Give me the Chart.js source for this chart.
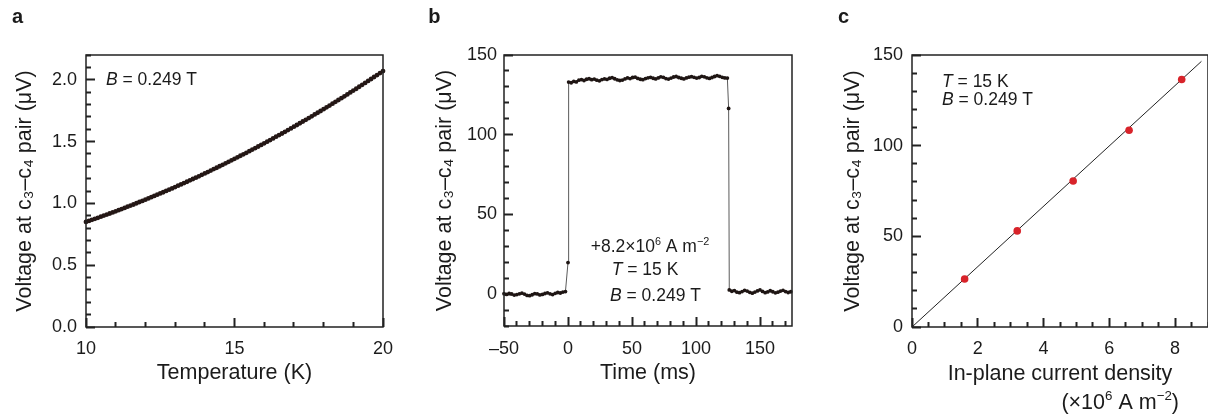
<!DOCTYPE html>
<html><head><meta charset="utf-8">
<script src="https://cdn.jsdelivr.net/npm/chart.js@4"></script>
<style>
html,body{margin:0;padding:0;background:#fff;overflow:hidden;width:1208px;height:414px;}
#wrap{position:relative;width:1208px;height:414px;overflow:hidden;background:#fff;}
canvas{position:absolute;top:0;}
</style></head>
<body><div id="wrap">
<canvas id="ca" width="400" height="414" style="left:0px"></canvas>
<canvas id="cb" width="400" height="414" style="left:400px"></canvas>
<canvas id="cc" width="412" height="414" style="left:800px"></canvas>
</div>
<script>
// ---------------- DATA ----------------
// Panel a: voltage vs temperature
const aTemp = [
 10.0,10.1,10.2,10.3,10.4,10.5,10.6,10.7,10.8,10.9,
 11.0,11.1,11.2,11.3,11.4,11.5,11.6,11.7,11.8,11.9,
 12.0,12.1,12.2,12.3,12.4,12.5,12.6,12.7,12.8,12.9,
 13.0,13.1,13.2,13.3,13.4,13.5,13.6,13.7,13.8,13.9,
 14.0,14.1,14.2,14.3,14.4,14.5,14.6,14.7,14.8,14.9,
 15.0,15.1,15.2,15.3,15.4,15.5,15.6,15.7,15.8,15.9,
 16.0,16.1,16.2,16.3,16.4,16.5,16.6,16.7,16.8,16.9,
 17.0,17.1,17.2,17.3,17.4,17.5,17.6,17.7,17.8,17.9,
 18.0,18.1,18.2,18.3,18.4,18.5,18.6,18.7,18.8,18.9,
 19.0,19.1,19.2,19.3,19.4,19.5,19.6,19.7,19.8,19.9,
 20.0];
const aVolt = [
 0.850,0.858,0.867,0.875,0.883,0.892,0.901,0.909,0.918,0.927,
 0.936,0.945,0.954,0.963,0.973,0.982,0.991,1.001,1.011,1.020,
 1.030,1.040,1.050,1.060,1.070,1.080,1.090,1.101,1.111,1.121,
 1.132,1.143,1.153,1.164,1.175,1.186,1.197,1.208,1.219,1.231,
 1.242,1.253,1.265,1.277,1.288,1.300,1.312,1.324,1.336,1.348,
 1.360,1.372,1.385,1.397,1.409,1.422,1.435,1.447,1.460,1.473,
 1.486,1.499,1.512,1.525,1.539,1.552,1.565,1.579,1.593,1.606,
 1.620,1.634,1.648,1.662,1.676,1.690,1.704,1.719,1.733,1.747,
 1.762,1.777,1.791,1.806,1.821,1.836,1.851,1.866,1.881,1.897,
 1.912,1.927,1.943,1.959,1.974,1.990,2.006,2.022,2.038,2.054,
 2.070];
const aXTicks = [10,15,20];
const aXLabels = ['10','15','20'];
const aYTicks = [0,0.5,1.0,1.5,2.0];
const aYLabels = ['0.0','0.5','1.0','1.5','2.0'];

// Panel b: voltage vs time (segments)
const bTimeLow1 = [-50,-48,-46,-44,-42,-40,-38,-36,-34,-32,
 -30,-28,-26,-24,-22,-20,-18,-16,-14,-12,
 -10,-8,-6,-4,-2];
const bVoltLow1 = [0.3,-0.2,0.5,0.1,-0.6,-0.3,0.2,0.6,0.0,-0.8,
 -1.0,-0.4,0.3,0.1,-0.5,-0.2,0.4,0.8,0.2,-0.3,
 0.5,1.0,0.7,1.3,1.6];
const bTimeRise = [0];
const bVoltRise = [19.8];
const bTimeHigh = [0.5,2.5,4.5,6.5,8.5,10.5,12.5,14.5,16.5,18.5,
 20.5,22.5,24.5,26.5,28.5,30.5,32.5,34.5,36.5,38.5,
 40.5,42.5,44.5,46.5,48.5,50.5,52.5,54.5,56.5,58.5,
 60.5,62.5,64.5,66.5,68.5,70.5,72.5,74.5,76.5,78.5,
 80.5,82.5,84.5,86.5,88.5,90.5,92.5,94.5,96.5,98.5,
 100.5,102.5,104.5,106.5,108.5,110.5,112.5,114.5,116.5,118.5,
 120.5,122.5,124.5];
const bVoltHigh = [133.0,132.6,133.4,133.1,134.2,134.6,134.0,134.8,135.1,134.5,
 134.9,134.2,133.8,134.6,135.0,134.7,135.4,135.8,135.1,134.4,
 134.0,134.3,135.0,135.6,135.2,135.9,136.1,135.3,134.8,134.5,
 135.2,135.7,136.0,135.4,135.0,135.6,136.3,136.0,135.2,134.9,
 135.5,136.2,136.5,135.9,135.4,135.0,135.6,136.1,136.4,136.0,
 135.5,135.9,136.6,136.3,135.7,135.3,135.9,136.5,137.0,136.6,
 136.0,135.6,135.5];
const bTimeFall = [125.5];
const bVoltFall = [116.5];
const bTimeLow2 = [126,128,130,132,134,136,138,140,142,144,
 146,148,150,152,154,156,158,160,162,164,
 166,168,170,172,174];
const bVoltLow2 = [2.6,1.8,2.2,1.2,0.9,1.6,2.4,1.9,1.1,0.6,
 1.3,2.0,2.6,1.7,0.9,1.4,2.1,1.5,0.8,1.2,
 1.9,2.4,1.6,1.0,1.5];
const bXTicks = [-50,0,50,100,150];
const bXLabels = ['\u201350','0','50','100','150'];
const bYTicks = [0,50,100,150];
const bYLabels = ['0','50','100','150'];

// Panel c: voltage vs current density
const cDensity = [1.6,3.2,4.9,6.6,8.2];
const cVolt = [26.5,53.0,80.5,108.5,136.5];
const cFitX = [0,8.8];
const cFitY = [0,146.5];
const cXTicks = [0,2,4,6,8];
const cXLabels = ['0','2','4','6','8'];
const cYTicks = [0,50,100,150];
const cYLabels = ['0','50','100','150'];

const yTitle = 'Voltage at c\u2083\u2013c\u2084 pair (\u03bcV)';

// ---------------- HELPERS ----------------
const FONT = '"Liberation Sans", Arial, Helvetica, sans-serif';
const INK = '#1b1b1b';
const AXIS = '#222222';
const TICK_LEN = 9;
const MINOR_LEN = 5;
const zip = (xs, ys) => xs.map((x, i) => ({x, y: ys[i]}));

function makeAxis(o) {
  const isMajor = v => o.major.some(m => Math.abs(m - v) < 1e-6);
  const pos = [];
  const n = Math.floor((o.max - o.min) / o.minor + 1e-6);
  for (let i = 0; i <= n; i++) pos.push(+(o.min + i * o.minor).toFixed(6));
  return {
    type: 'linear', min: o.min, max: o.max,
    grid: {display: true, drawOnChartArea: false, drawTicks: true, tickLength: -TICK_LEN,
      tickColor: AXIS, tickWidth: 2,
      tickBorderDash: c => isMajor(c.tick.value) ? [] :
        (o.horizontal ? [MINOR_LEN, 40] : [0, TICK_LEN - MINOR_LEN, MINOR_LEN, 40])},
    border: {display: false},
    ticks: {autoSkip: false, maxRotation: 0, padding: o.pad + TICK_LEN, color: INK,
      font: {family: FONT, size: 18},
      callback: v => { const i = o.major.findIndex(m => Math.abs(m - v) < 1e-6); return i >= 0 ? o.labels[i] : ''; }},
    afterBuildTicks: s => { s.ticks = pos.map(v => ({value: v})); },
    afterFit: s => {
      if (o.horizontal) s.height = o.fit; else s.width = o.fit;
      s.paddingLeft = 0; s.paddingRight = 0; s.paddingTop = 0; s.paddingBottom = 0;
    },
    title: {display: !!o.title, text: o.title || '', color: INK,
      font: {family: FONT, size: 21.5},
      padding: o.horizontal ? {top: 0, bottom: o.titlePad} : {top: o.titlePad, bottom: 0}}
  };
}

function rich(ctx, x, y, parts, size, align) {
  let w = 0;
  const segs = parts.map(p => {
    const s = (p.sup || p.sub) ? size * 0.62 : size;
    const f = (p.it ? 'italic ' : '') + (p.bold ? 'bold ' : '') + s + 'px ' + FONT;
    ctx.font = f;
    const m = ctx.measureText(p.t).width;
    w += m;
    return {p, f, m};
  });
  let cx = align === 'right' ? x - w : align === 'center' ? x - w / 2 : x;
  ctx.textBaseline = 'alphabetic';
  ctx.textAlign = 'left';
  for (const g of segs) {
    ctx.font = g.f;
    const dy = g.p.sup ? -size * 0.38 : g.p.sub ? size * 0.2 : 0;
    ctx.fillText(g.p.t, cx, y + dy);
    cx += g.m;
  }
}

function framePlugin(cfg) {
  return {
    id: 'frame' + cfg.id,
    afterDatasetsDraw(chart) {
      const ctx = chart.ctx;
      const a = chart.chartArea;
      ctx.save();
      ctx.strokeStyle = AXIS;
      ctx.lineWidth = 1.5;
      ctx.beginPath();
      ctx.rect(a.left, a.top, a.right - a.left, a.bottom - a.top);
      ctx.stroke();
      ctx.restore();
    },
    afterDraw(chart) {
      const ctx = chart.ctx;
      ctx.save();
      ctx.fillStyle = INK;
      cfg.texts.forEach(t => rich(ctx, t.x, t.y, t.parts, t.size, t.align));
      ctx.restore();
    }
  };
}

Chart.defaults.animation = false;
Chart.defaults.responsive = false;
Chart.defaults.plugins.legend.display = false;
Chart.defaults.plugins.tooltip.enabled = false;

// ---------------- PANEL A ----------------
new Chart(document.getElementById('ca'), {
  type: 'scatter',
  data: {datasets: [{data: zip(aTemp, aVolt), showLine: false, pointRadius: 2.4,
    pointBackgroundColor: '#241715', pointBorderWidth: 0, clip: false}]},
  options: {
    layout: {padding: {top: 55, right: 17, bottom: 0, left: 0}},
    scales: {
      x: makeAxis({min: 10, max: 20, minor: 1, major: aXTicks, labels: aXLabels, pad: 11, fit: 87, horizontal: true, title: 'Temperature (K)', titlePad: 28}),
      y: makeAxis({min: 0, max: 2.2, minor: 0.1, major: aYTicks, labels: aYLabels, pad: 9, fit: 86, title: yTitle, titlePad: 12})
    }
  },
  plugins: [framePlugin({id: 'a', texts: [
    {x: 12, y: 23.3, size: 20, parts: [{t: 'a', bold: true}]},
    {x: 106, y: 85.3, size: 17.5, parts: [{t: 'B', it: true}, {t: ' = 0.249 T'}]}
  ]})]
});

// ---------------- PANEL B ----------------
const bPoints = [].concat(zip(bTimeLow1, bVoltLow1), zip(bTimeRise, bVoltRise), zip(bTimeHigh, bVoltHigh),
  zip(bTimeFall, bVoltFall), zip(bTimeLow2, bVoltLow2));
new Chart(document.getElementById('cb'), {
  type: 'scatter',
  data: {datasets: [{data: bPoints, showLine: true, borderColor: '#5a5a5a', borderWidth: 1,
    pointRadius: 1.9, pointBackgroundColor: '#1e1513', pointBorderWidth: 0, clip: false}]},
  options: {
    layout: {padding: {top: 55, right: 8, bottom: 0, left: 0}},
    scales: {
      x: makeAxis({min: -50, max: 175, minor: 10, major: bXTicks, labels: bXLabels, pad: 12, fit: 88, horizontal: true, title: 'Time (ms)', titlePad: 28}),
      y: makeAxis({min: -20, max: 150, minor: 10, major: bYTicks, labels: bYLabels, pad: 7, fit: 104, title: yTitle, titlePad: 32.5})
    }
  },
  plugins: [framePlugin({id: 'b', texts: [
    {x: 28.3, y: 23.3, size: 20, parts: [{t: 'b', bold: true}]},
    {x: 190.7, y: 251.5, size: 17.5, parts: [{t: '+8.2\u00d710'}, {t: '6', sup: true}, {t: ' A m'}, {t: '\u22122', sup: true}]},
    {x: 211.7, y: 275, size: 17.5, parts: [{t: 'T', it: true}, {t: ' = 15 K'}]},
    {x: 210, y: 301, size: 17.5, parts: [{t: 'B', it: true}, {t: ' = 0.249 T'}]}
  ]})]
});

// ---------------- PANEL C ----------------
new Chart(document.getElementById('cc'), {
  type: 'scatter',
  data: {datasets: [
    {data: zip(cDensity, cVolt), showLine: false, pointRadius: 3.8, pointBackgroundColor: '#d8232a', pointBorderWidth: 0, order: 0},
    {data: zip(cFitX, cFitY), showLine: true, borderColor: '#222', borderWidth: 1, pointRadius: 0, order: 1}
  ]},
  options: {
    layout: {padding: {top: 55, right: 2, bottom: 0, left: 0}},
    scales: {
      x: makeAxis({min: 0, max: 9, minor: 0.5, major: cXTicks, labels: cXLabels, pad: 11, fit: 87, horizontal: true, title: 'In-plane current density', titlePad: 27}),
      y: makeAxis({min: 0, max: 150, minor: 10, major: cYTicks, labels: cYLabels, pad: 9, fit: 112, title: yTitle, titlePad: 40.5})
    }
  },
  plugins: [framePlugin({id: 'c', texts: [
    {x: 38, y: 23.3, size: 20, parts: [{t: 'c', bold: true}]},
    {x: 142, y: 87.3, size: 17.5, parts: [{t: 'T', it: true}, {t: ' = 15 K'}]},
    {x: 142, y: 105, size: 17.5, parts: [{t: 'B', it: true}, {t: ' = 0.249 T'}]},
    {x: 379, y: 408.5, size: 21.5, align: 'right', parts: [{t: '(\u00d710'}, {t: '6', sup: true}, {t: ' A m'}, {t: '\u22122', sup: true}, {t: ')'}]}
  ]})]
});
</script>
</body></html>
